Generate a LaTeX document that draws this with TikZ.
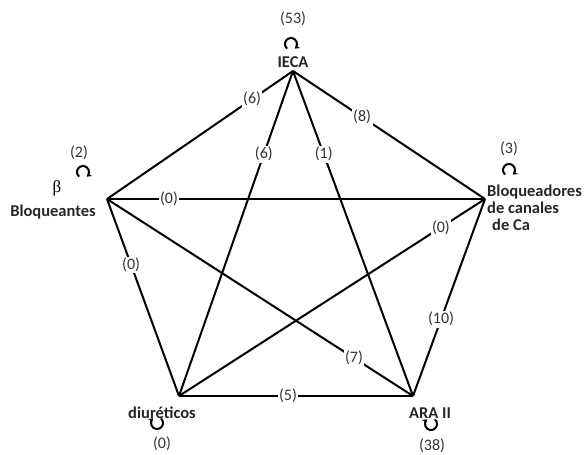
\documentclass[tikz,border=0pt]{standalone}
\usepackage{fontspec}
\setmainfont{Carlito}
\newfontfamily\grkfont{Liberation Serif}
\usetikzlibrary{arrows.meta}
\begin{document}
\begin{tikzpicture}[x=1pt,y=-1pt,
  edge/.style={line width=2pt,black},
  elabel/.style={fill=white,inner sep=1.5pt,font=\fontsize{16}{17}\selectfont,text=black!80},
  vname/.style={font=\bfseries\fontsize{16.5}{17}\selectfont,text=black!85,inner sep=0pt},
  cnt/.style={font=\fontsize{16}{17}\selectfont,text=black!80,inner sep=0pt},
  loopc/.style={line width=2pt,-{Stealth[length=4.5pt,width=6pt]}}]
\useasboundingbox (0,0) rectangle (584,455);
% vertices
\coordinate (A) at (293,71);
\coordinate (B) at (107,199);
\coordinate (C) at (485,199);
\coordinate (D) at (179,396);
\coordinate (E) at (413,396);
% edges
\draw[edge] (A) -- node[elabel,pos=0.22]{(6)} (B);
\draw[edge] (A) -- node[elabel,pos=0.36]{(8)} (C);
\draw[edge] (A) -- node[elabel,pos=0.256]{(6)} (D);
\draw[edge] (A) -- node[elabel,pos=0.256]{(1)} (E);
\draw[edge] (B) -- node[elabel,pos=0.164]{(0)} (C);
\draw[edge] (B) -- node[elabel,pos=0.335]{(0)} (D);
\draw[edge] (D) -- node[elabel,pos=0.856]{(0)} (C);
\draw[edge] (C) -- node[elabel,pos=0.61]{(10)} (E);
\draw[edge] (B) -- node[elabel,pos=0.807]{(7)} (E);
\draw[edge] (D) -- node[elabel,pos=0.466]{(5)} (E);
% names
\node[vname] (nA) at (293,62) {IECA};
\node[font=\grkfont\fontsize{17}{17}\selectfont,inner sep=0pt] (nBb) at (57,188) {β};
\node[vname] (nB) at (53,212) {Bloqueantes};
\node[vname,align=left,anchor=north west] (nC) at (487,185) {Bloqueadores\\de canales\\\hspace{5pt}de Ca};
\node[vname,anchor=east] (nD) at (196,413) {diuréticos};
\node[vname] (nE) at (430,413) {ARA II};
% counts
\node[cnt] (cA) at (293,19) {(53)};
\node[cnt] (cB) at (79,153) {(2)};
\node[cnt] (cC) at (509,149) {(3)};
\node[cnt] (cD) at (162,444) {(0)};
\node[cnt] (cE) at (432,446) {(38)};
% loop arrows
\foreach \cx/\cy in {291/44, 83/172, 509/170}
  \draw[loopc] ({\cx+6*cos(-230)},{\cy+6*sin(-230)}) arc[start angle=-230,end angle=50,radius=6];
\foreach \cx/\cy in {157/423, 431/424}
  \draw[loopc] ({\cx+6*cos(-50)},{\cy+6*sin(-50)}) arc[start angle=-50,end angle=230,radius=6];
\end{tikzpicture}
\end{document}
